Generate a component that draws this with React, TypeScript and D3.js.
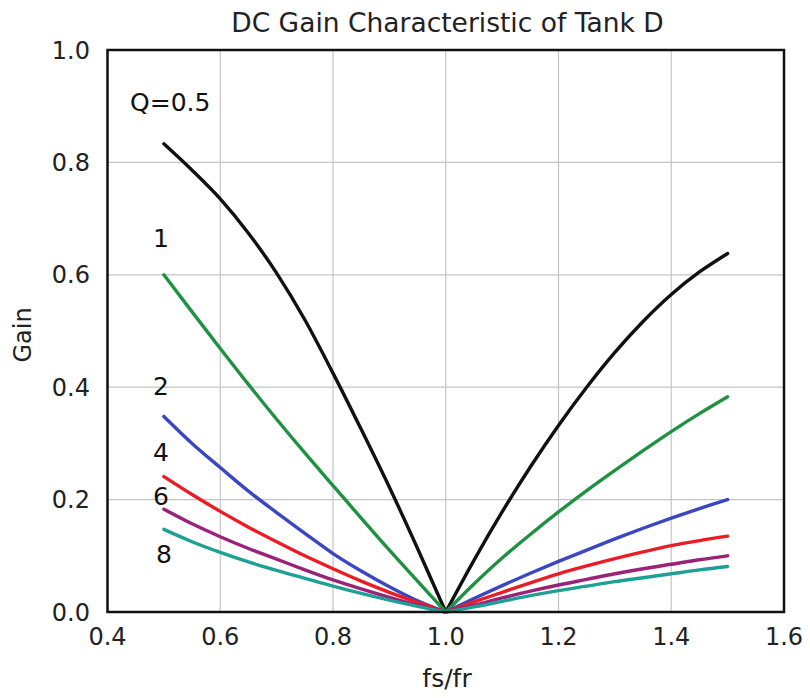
import React from "react";
import * as d3 from "d3";

// Normalised switching frequency fs/fr
const ratio = [0.5, 0.55, 0.6, 0.65, 0.7, 0.75, 0.8, 0.85, 0.9, 0.95, 1.0, 1.05, 1.1, 1.15, 1.2, 1.25, 1.3, 1.35, 1.4, 1.45, 1.5];

// Gain for each quality factor
const gainQ05 = [0.833, 0.786, 0.735, 0.674, 0.603, 0.52, 0.425, 0.325, 0.222, 0.113, 0, 0.092, 0.178, 0.258, 0.332, 0.4, 0.462, 0.517, 0.565, 0.605, 0.638];
const gainQ1 = [0.6, 0.534, 0.469, 0.405, 0.343, 0.283, 0.225, 0.167, 0.11, 0.055, 0, 0.05, 0.096, 0.138, 0.178, 0.216, 0.252, 0.287, 0.321, 0.353, 0.383];
const gainQ2 = [0.348, 0.3, 0.257, 0.215, 0.177, 0.14, 0.104, 0.073, 0.045, 0.02, 0, 0.024, 0.047, 0.069, 0.09, 0.11, 0.13, 0.149, 0.167, 0.184, 0.2];
const gainQ4 = [0.241, 0.209, 0.179, 0.151, 0.125, 0.1, 0.077, 0.055, 0.035, 0.017, 0, 0.018, 0.035, 0.052, 0.068, 0.082, 0.095, 0.107, 0.118, 0.127, 0.135];
const gainQ6 = [0.183, 0.157, 0.134, 0.113, 0.094, 0.075, 0.057, 0.041, 0.026, 0.012, 0, 0.012, 0.025, 0.037, 0.048, 0.058, 0.068, 0.077, 0.085, 0.093, 0.1];
const gainQ8 = [0.147, 0.125, 0.106, 0.089, 0.074, 0.06, 0.046, 0.033, 0.021, 0.01, 0, 0.009, 0.019, 0.029, 0.038, 0.046, 0.054, 0.061, 0.068, 0.075, 0.081];

const seriesLabels = ["Q=0.5", "1", "2", "4", "6", "8"];
const seriesColors = ["#111111", "#1f9143", "#3a46c2", "#ec1c24", "#9a2379", "#1fa096"];
const seriesValues = [gainQ05, gainQ1, gainQ2, gainQ4, gainQ6, gainQ8];

const xTicks = [0.4, 0.6, 0.8, 1.0, 1.2, 1.4, 1.6];
const yTicks = [0.0, 0.2, 0.4, 0.6, 0.8, 1.0];

const W = 810;
const H = 698;
const plot = { left: 107.5, right: 784, top: 50, bottom: 612 };
const FONT = "'DejaVu Sans', Verdana, sans-serif";

// Label anchor positions in data space (left of the curve starts)
const labelAt: [number, number][] = [
  [0.44, 0.892],
  [0.495, 0.649],
  [0.495, 0.387],
  [0.495, 0.268],
  [0.495, 0.19],
  [0.5, 0.087],
];

export default function App() {
  const x = d3.scaleLinear().domain([0.4, 1.6]).range([plot.left, plot.right]);
  const y = d3.scaleLinear().domain([0, 1]).range([plot.bottom, plot.top]);

  const line = d3
    .line<[number, number]>()
    .x((d) => x(d[0]))
    .y((d) => y(d[1]))
    .curve(d3.curveMonotoneX);

  // Each curve has a sharp notch at fs/fr = 1, so draw the two sides separately
  const branches = (vals: number[]) => {
    const pts: [number, number][] = ratio.map((r, i) => [r, vals[i]]);
    const left = pts.filter((p) => p[0] <= 1.0);
    const right = pts.filter((p) => p[0] >= 1.0);
    return [line(left) ?? "", line(right) ?? ""];
  };

  return (
    <svg
      width={W}
      height={H}
      style={{ position: "absolute", left: 0, top: 0, background: "#fff" }}
      fontFamily={FONT}
    >
      <text x={447.5} y={31.5} textAnchor="middle" fontSize={26.5} fill="#222">
        DC Gain Characteristic of Tank D
      </text>

      {/* grid */}
      {xTicks.map((t) => (
        <line key={"gx" + t} x1={x(t)} x2={x(t)} y1={plot.top} y2={plot.bottom} stroke="#c4c4c4" strokeWidth={1.2} />
      ))}
      {yTicks.map((t) => (
        <line key={"gy" + t} x1={plot.left} x2={plot.right} y1={y(t)} y2={y(t)} stroke="#c4c4c4" strokeWidth={1.2} />
      ))}

      {/* curves */}
      {seriesValues.map((vals, i) =>
        branches(vals).map((d, j) => (
          <path
            key={`s${i}-${j}`}
            d={d}
            fill="none"
            stroke={seriesColors[i]}
            strokeWidth={3.4}
            strokeLinecap="round"
            strokeLinejoin="round"
          />
        ))
      )}

      {/* frame */}
      <rect
        x={plot.left}
        y={plot.top}
        width={plot.right - plot.left}
        height={plot.bottom - plot.top}
        fill="none"
        stroke="#111"
        strokeWidth={2.5}
      />

      {/* tick labels */}
      {yTicks.map((t) => (
        <text key={"ty" + t} x={90} y={y(t)} dy="0.36em" textAnchor="end" fontSize={24} fill="#222">
          {d3.format(".1f")(t)}
        </text>
      ))}
      {xTicks.map((t) => (
        <text key={"tx" + t} x={x(t)} y={645} textAnchor="middle" fontSize={24} fill="#222">
          {d3.format(".1f")(t)}
        </text>
      ))}

      {/* axis titles */}
      <text x={447} y={687} textAnchor="middle" fontSize={25} fill="#222">
        fs/fr
      </text>
      <text transform={`translate(31,335) rotate(-90)`} textAnchor="middle" fontSize={24} fill="#222">
        Gain
      </text>

      {/* series labels */}
      {seriesLabels.map((s, i) => (
        <text
          key={"lab" + s}
          x={x(labelAt[i][0])}
          y={y(labelAt[i][1])}
          textAnchor={i === 0 ? "start" : "middle"}
          fontSize={25}
          fill="#111"
        >
          {s}
        </text>
      ))}
    </svg>
  );
}
